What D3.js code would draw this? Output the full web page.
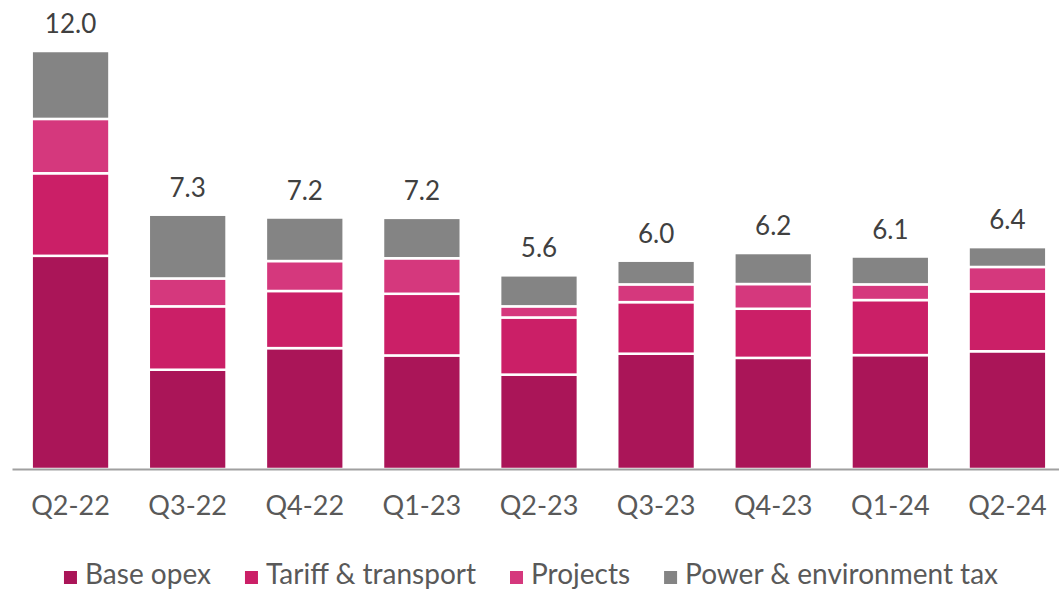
<!DOCTYPE html>
<html>
<head>
    <meta charset="utf-8">
    <title>Opex per quarter</title>
    <script src="https://d3js.org/d3.v7.min.js"></script>
    <style>
        html, body { margin: 0; padding: 0; background: #fff; }
        svg { display: block; font-family: Lato, 'Open Sans', sans-serif; }
    </style>
</head>
<body>
    <div id="cont"></div>
    <script>
        // data
        var quarters = ['Q2-22', 'Q3-22', 'Q4-22', 'Q1-23', 'Q2-23', 'Q3-23', 'Q4-23', 'Q1-24', 'Q2-24'];
        var seriesNames = ['Base opex', 'Tariff & transport', 'Projects', 'Power & environment tax'];
        var baseOpex = [6.12, 2.85, 3.47, 3.26, 2.71, 3.31, 3.19, 3.27, 3.38];
        var tariffTransport = [2.37, 1.82, 1.64, 1.77, 1.64, 1.48, 1.41, 1.58, 1.72];
        var projects = [1.56, 0.80, 0.86, 1.02, 0.32, 0.51, 0.71, 0.45, 0.70];
        var powerTax = [1.95, 1.83, 1.25, 1.16, 0.89, 0.68, 0.89, 0.80, 0.57];
        var colors = ['#aa1558', '#cb1f67', '#d5387d', '#848484'];

        (function() {
            var width = 1059,
                height = 590,
                yMax = 12,
                seriesValues = [baseOpex, tariffTransport, projects, powerTax];

            // one row per quarter for d3.stack
            var rows = quarters.map(function(q, i) {
                var row = { quarter: q };
                seriesNames.forEach(function(name, s) {
                    row[name] = seriesValues[s][i];
                });
                return row;
            });

            var svg = d3.select('#cont').append('svg')
                .attr('width', width)
                .attr('height', height);

            var xScale = d3.scaleBand()
                .domain(quarters)
                .range([12, 1066])
                .paddingInner(0.336)
                .paddingOuter(0.168);

            var yScale = d3.scaleLinear()
                .domain([0, yMax])
                .range([469, 51]);

            var color = d3.scaleOrdinal().domain(seriesNames).range(colors);

            var stacked = d3.stack().keys(seriesNames)(rows);

            //bars
            svg.append('g')
                .selectAll('g')
                .data(stacked)
                .enter()
                .append('g')
                .attr('fill', function(d) { return color(d.key); })
                .selectAll('rect')
                .data(function(d) { return d; })
                .enter()
                .append('rect')
                .attr('x', function(d) { return xScale(d.data.quarter); })
                .attr('width', xScale.bandwidth())
                .attr('y', function(d) { return yScale(d[1]); })
                .attr('height', function(d) { return yScale(d[0]) - yScale(d[1]); })
                .attr('stroke', '#fff')
                .attr('stroke-width', 2.5);

            //axis
            var xAxis = d3.axisBottom(xScale).tickSize(0).tickPadding(27);
            var axisG = svg.append('g')
                .attr('class', 'axis xaxis')
                .attr('transform', 'translate(0,' + yScale(0) + ')')
                .call(xAxis);
            axisG.select('.domain')
                .attr('stroke', '#a0a0a0')
                .attr('stroke-width', 2);
            axisG.selectAll('text')
                .attr('fill', '#595959')
                .style('font-family', 'Lato, sans-serif')
                .style('font-size', '27px');

            //totals above the bars
            var lastLayer = stacked[stacked.length - 1];
            svg.append('g')
                .selectAll('text')
                .data(lastLayer)
                .enter()
                .append('text')
                .attr('x', function(d) { return xScale(d.data.quarter) + xScale.bandwidth() / 2; })
                .attr('y', function(d) { return yScale(d[1]) - 18; })
                .attr('text-anchor', 'middle')
                .attr('fill', '#404040')
                .style('font-size', '26px')
                .text(function(d) { return d3.format('.1f')(d[1]); });

            //legend
            var legend = svg.append('g').attr('class', 'legend');
            var cursor = 0;
            seriesNames.forEach(function(name, i) {
                var item = legend.append('g').attr('transform', 'translate(' + cursor + ',0)');
                item.append('rect')
                    .attr('x', 0)
                    .attr('y', -13)
                    .attr('width', 13)
                    .attr('height', 13)
                    .attr('fill', color(name));
                var t = item.append('text')
                    .attr('x', 21)
                    .attr('y', 0)
                    .attr('fill', '#595959')
                    .style('font-size', '28px')
                    .text(name);
                cursor += 21 + t.node().getComputedTextLength() + 34;
            });
            var legendWidth = cursor - 34;
            legend.attr('transform', 'translate(' + (531 - legendWidth / 2) + ',584)');
        })();
    </script>
</body>
</html>
